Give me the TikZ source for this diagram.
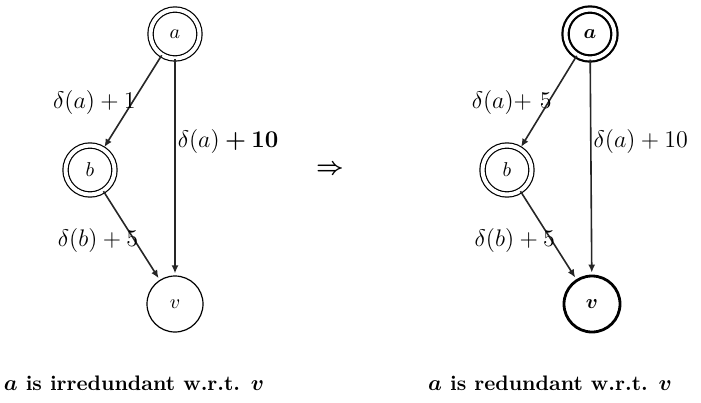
\documentclass[tikz,border=0pt]{standalone}
\usepackage{amsmath}
\usetikzlibrary{arrows.meta}

\begin{document}
\begin{tikzpicture}[
    x=0.5pt, y=-0.5pt,
    state/.style  = {circle, draw, line width=0.6pt, inner sep=0pt,
                     minimum size=28pt},
    dstate/.style = {state, double, double distance=2pt,
                     minimum size=24.5pt},
    heavy/.style  = {line width=1.4pt},
    arr/.style    = {-{Latex[length=4pt, width=3.5pt]}, line width=0.8pt,
                     black!85, shorten >=1pt},
    lab/.style    = {font=\large, text=black, inner sep=1pt},
    capt/.style   = {font=\fontsize{10.5}{13}\selectfont\bfseries\boldmath}
  ]
  \useasboundingbox (0,0) rectangle (701,402);

  % left graph
  \node[dstate] (la) at (175,34)  {$a$};
  \node[dstate] (lb) at (90,170)  {$b$};
  \node[state]  (lv) at (175,304) {$v$};

  \draw[arr] (la) -- node[lab, pos=0.5, anchor=east, xshift=3pt] {$\delta(a) + 1$} (lb);
  \draw[arr] (la) -- node[lab, pos=0.38, anchor=west] {$\delta(a) \mathbin{\boldsymbol{+}} \mathbf{10}$} (lv);
  \draw[arr] (lb) -- node[lab, pos=0.56, anchor=east, xshift=3pt] {$\delta(b) + 5$} (lv);

  % implication
  \node[font=\large\boldmath] (imp) at (330,170) {$\Rightarrow$};

  % right graph
  \node[dstate, line width=1.1pt] (ra) at (590,34)  {$\boldsymbol{a}$};
  \node[dstate] (rb) at (507,170) {$b$};
  \node[state, heavy] (rv) at (592,304) {$\boldsymbol{v}$};

  \draw[arr] (ra) -- node[lab, pos=0.5, anchor=east, xshift=3pt] {$\delta(a){+}\ 5$} (rb);
  \draw[arr] (ra) -- node[lab, pos=0.38, anchor=west] {$\delta(a) + 10$} (rv);
  \draw[arr] (rb) -- node[lab, pos=0.56, anchor=east, xshift=3pt] {$\delta(b) + 5$} (rv);

  % captions
  \node[capt] (lc) at (134,383) {$a$ is irredundant w.r.t. $v$};
  \node[capt] (rc) at (550,383) {$a$ is redundant w.r.t. $v$};

\end{tikzpicture}
\end{document}
